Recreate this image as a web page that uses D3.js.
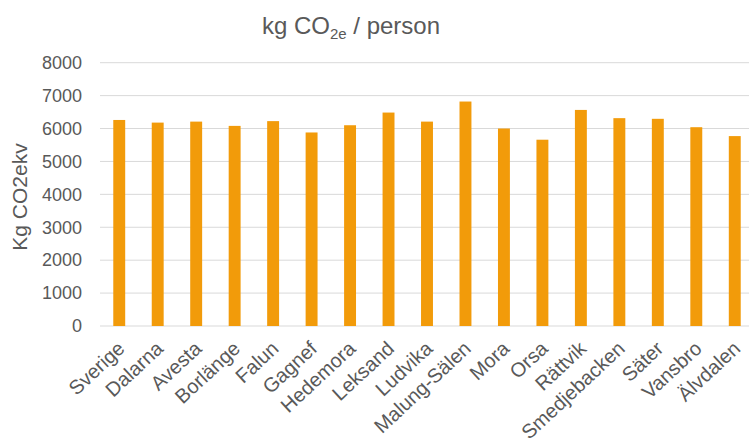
<!DOCTYPE html>
<html>
<head>
<meta charset="utf-8">
<script src="https://cdn.jsdelivr.net/npm/d3@7"></script>
<style>
  html, body { margin: 0; padding: 0; background: #fff; }
  svg { display: block; font-family: "Liberation Sans", Arial, sans-serif; }
</style>
</head>
<body>
<svg id="chart" width="749" height="439"></svg>
<script>
// Municipalities in Dalarna plus Sweden and county averages
const categories = ["Sverige", "Dalarna", "Avesta", "Borlänge", "Falun", "Gagnef", "Hedemora",
  "Leksand", "Ludvika", "Malung-Sälen", "Mora", "Orsa", "Rättvik", "Smedjebacken",
  "Säter", "Vansbro", "Älvdalen"];
// Emissions, kg CO2e per person
const values = [6260, 6180, 6210, 6080, 6225, 5880, 6100, 6485, 6210, 6820, 6000, 5660,
  6565, 6315, 6295, 6040, 5770];
const yTicks = [0, 1000, 2000, 3000, 4000, 5000, 6000, 7000, 8000];

const svg = d3.select("#chart");
const textColor = "#595959";
const font = "Liberation Sans, Arial, sans-serif";

const x = d3.scaleBand().domain(categories).range([100, 754]).paddingInner(0.69).paddingOuter(0.345);
const y = d3.scaleLinear().domain([0, 8000]).range([326, 62.7]);

// Horizontal gridlines
svg.append("g").selectAll("line").data(yTicks).join("line")
  .attr("x1", 100).attr("x2", 754)
  .attr("y1", d => y(d)).attr("y2", d => y(d))
  .attr("stroke", "#d9d9d9").attr("stroke-width", 1);

// Y axis tick labels
const yAxis = d3.axisLeft(y).tickValues(yTicks).tickSize(0).tickPadding(0).tickFormat(d3.format("d"));
svg.append("g").attr("transform", "translate(82,0)").call(yAxis)
  .call(g => g.select(".domain").remove())
  .call(g => g.selectAll("text").attr("fill", textColor).attr("font-size", 18)
    .attr("font-family", font));

// Bars
svg.append("g").selectAll("rect").data(values).join("rect")
  .attr("x", (d, i) => x(categories[i]))
  .attr("width", x.bandwidth())
  .attr("y", d => y(d))
  .attr("height", d => y(0) - y(d))
  .attr("fill", "#F29B0A");

// Category labels, rotated
const xAxis = d3.axisBottom(x).tickSize(0).tickPadding(0);
svg.append("g").attr("transform", "translate(0,326)").call(xAxis)
  .call(g => g.select(".domain").remove())
  .call(g => g.selectAll("text")
    .attr("fill", textColor).attr("font-size", 20)
    .attr("font-family", font)
    .attr("text-anchor", "end")
    .attr("y", 0)
    .attr("dy", "0.35em")
    .attr("transform", "translate(2,19) rotate(-43)"));

// Title
const title = svg.append("text")
  .attr("x", 351).attr("y", 34)
  .attr("text-anchor", "middle")
  .attr("fill", textColor).attr("font-size", 24);
title.append("tspan").text("kg CO");
title.append("tspan").attr("font-size", 15).attr("dy", 5).text("2e");
title.append("tspan").attr("dy", -5).text(" / person");

// Y axis title
svg.append("text")
  .attr("transform", "translate(27,197) rotate(-90)")
  .attr("text-anchor", "middle")
  .attr("fill", textColor).attr("font-size", 21)
  .text("Kg CO2ekv");
</script>
</body>
</html>
